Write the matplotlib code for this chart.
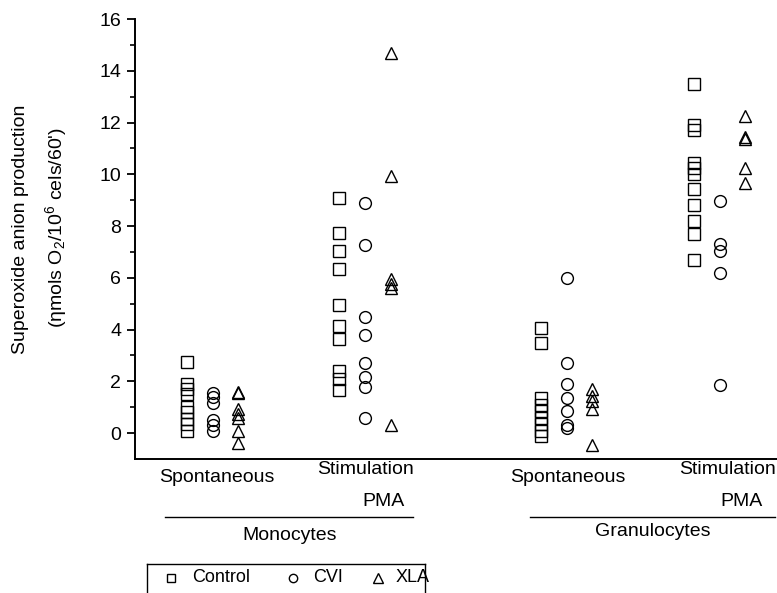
import matplotlib
matplotlib.use('Agg')
import matplotlib.pyplot as plt
from matplotlib.lines import Line2D
import numpy as np

plt.rcParams['font.family'] = ['Liberation Sans', 'DejaVu Sans']
plt.rcParams['mathtext.fontset'] = 'custom'
plt.rcParams['mathtext.rm'] = 'Liberation Sans'
plt.rcParams['mathtext.it'] = 'Liberation Sans:italic'

# superoxide values, one list per column
mono_spont_control = [2.75, 1.9, 1.7, 1.5, 1.0, 0.8, 0.55, 0.35, 0.1]
mono_spont_cvi = [1.55, 1.4, 1.15, 0.5, 0.3, 0.1]
mono_spont_xla = [1.6, 1.55, 0.95, 0.75, 0.6, 0.1, -0.4]

mono_stim_control = [9.1, 7.75, 7.05, 6.35, 4.95, 4.15, 3.65, 2.4, 2.1, 1.65]
mono_stim_cvi = [8.9, 7.25, 4.5, 3.8, 2.7, 2.15, 1.8, 0.6]
mono_stim_xla = [14.7, 9.95, 5.95, 5.75, 5.6, 0.3]

gran_spont_control = [4.05, 3.5, 1.35, 1.1, 0.85, 0.6, 0.35, 0.1, -0.1]
gran_spont_cvi = [6.0, 2.7, 1.9, 1.35, 0.85, 0.3, 0.2]
gran_spont_xla = [1.7, 1.45, 1.25, 0.95, -0.45]

gran_stim_control = [13.5, 11.9, 11.7, 10.45, 10.25, 10.0, 9.45, 8.8, 8.2, 7.7, 6.7]
gran_stim_cvi = [8.95, 7.3, 7.05, 6.2, 1.85]
gran_stim_xla = [12.25, 11.45, 11.35, 10.25, 9.65]

groups = [
    (mono_spont_control, mono_spont_cvi, mono_spont_xla),
    (mono_stim_control, mono_stim_cvi, mono_stim_xla),
    (gran_spont_control, gran_spont_cvi, gran_spont_xla),
    (gran_stim_control, gran_stim_cvi, gran_stim_xla),
]
group_centers = [3.0, 8.85, 16.6, 22.5]
offsets = [-1.0, 0.0, 0.98]
markers = ['s', 'o', '^']
sizes = [8, 8.5, 9]

W, H = 777, 593
fig = plt.figure(figsize=(W / 100, H / 100), dpi=100)
ax = fig.add_axes([135 / W, 1 - 459 / H, 1 - 135 / W, (459 - 19) / H])

for center, cols in zip(group_centers, groups):
    for off, vals, m, ms in zip(offsets, cols, markers, sizes):
        ax.plot(np.full(len(vals), center + off), vals, linestyle='none',
                marker=m, markersize=ms, markerfacecolor='none',
                markeredgecolor='black', markeredgewidth=1.0, clip_on=False)

ax.set_xlim(0, (W - 135) / 26)
ax.set_ylim(-1, 16)
ax.set_yticks(np.arange(0, 17, 2))
ax.set_yticks(np.arange(1, 16, 2), minor=True)
ax.set_xticks([])
ax.tick_params(axis='y', which='major', direction='out', length=6, width=1.3,
               labelsize=14, pad=4)
ax.tick_params(axis='y', which='minor', direction='out', length=3.5, width=1.2)
for side in ['top', 'right']:
    ax.spines[side].set_visible(False)
ax.spines['left'].set_linewidth(1.4)
ax.spines['bottom'].set_linewidth(1.4)

# y axis label in two lines
fig.text(21 / W, 1 - 229 / H, 'Superoxide anion production', rotation=90,
         ha='center', va='center', fontsize=14)
fig.text(56 / W, 1 - 228 / H, "(\u03b7mols O$_2$/10$^6$ cels/60')", rotation=90,
         ha='center', va='center', fontsize=14)


def ftext(x, y, s, size=14, **kw):
    fig.text(x / W, 1 - y / H, s, ha='center', va='center', fontsize=size, **kw)


def fline(x0, x1, y0, y1, lw=1.0):
    fig.add_artist(Line2D([x0 / W, x1 / W], [1 - y0 / H, 1 - y1 / H],
                          color='black', linewidth=lw))


# category labels under the axis
ftext(217, 477, 'Spontaneous')
ftext(365, 470, 'Stimulation')
ftext(383, 501, 'PMA')
fline(165, 413, 517, 517)
ftext(290, 535, 'Monocytes')

ftext(568, 477, 'Spontaneous')
ftext(727, 470, 'Stimulation')
ftext(741, 501, 'PMA')
fline(530, 775, 517, 517)
ftext(653, 532, 'Granulocytes')

# legend box, cut by the bottom edge
box_l, box_r, box_t = 147, 425, 564
fline(box_l, box_r, box_t, box_t)
fline(box_l, box_l, box_t, H + 5)
fline(box_r, box_r, box_t, H + 5)
legend_items = [('Control', 's', 6, 171, 192), ('CVI', 'o', 6, 293, 313), ('XLA', '^', 7, 378, 396)]
for name, m, ms, mx, tx in legend_items:
    fig.add_artist(Line2D([mx / W], [1 - 578 / H], marker=m, markersize=ms,
                          markerfacecolor='none', markeredgecolor='black',
                          markeredgewidth=1.0, linestyle='none'))
    fig.text(tx / W, 1 - 577 / H, name, ha='left', va='center', fontsize=13)

fig.savefig('out.png', dpi=100)
